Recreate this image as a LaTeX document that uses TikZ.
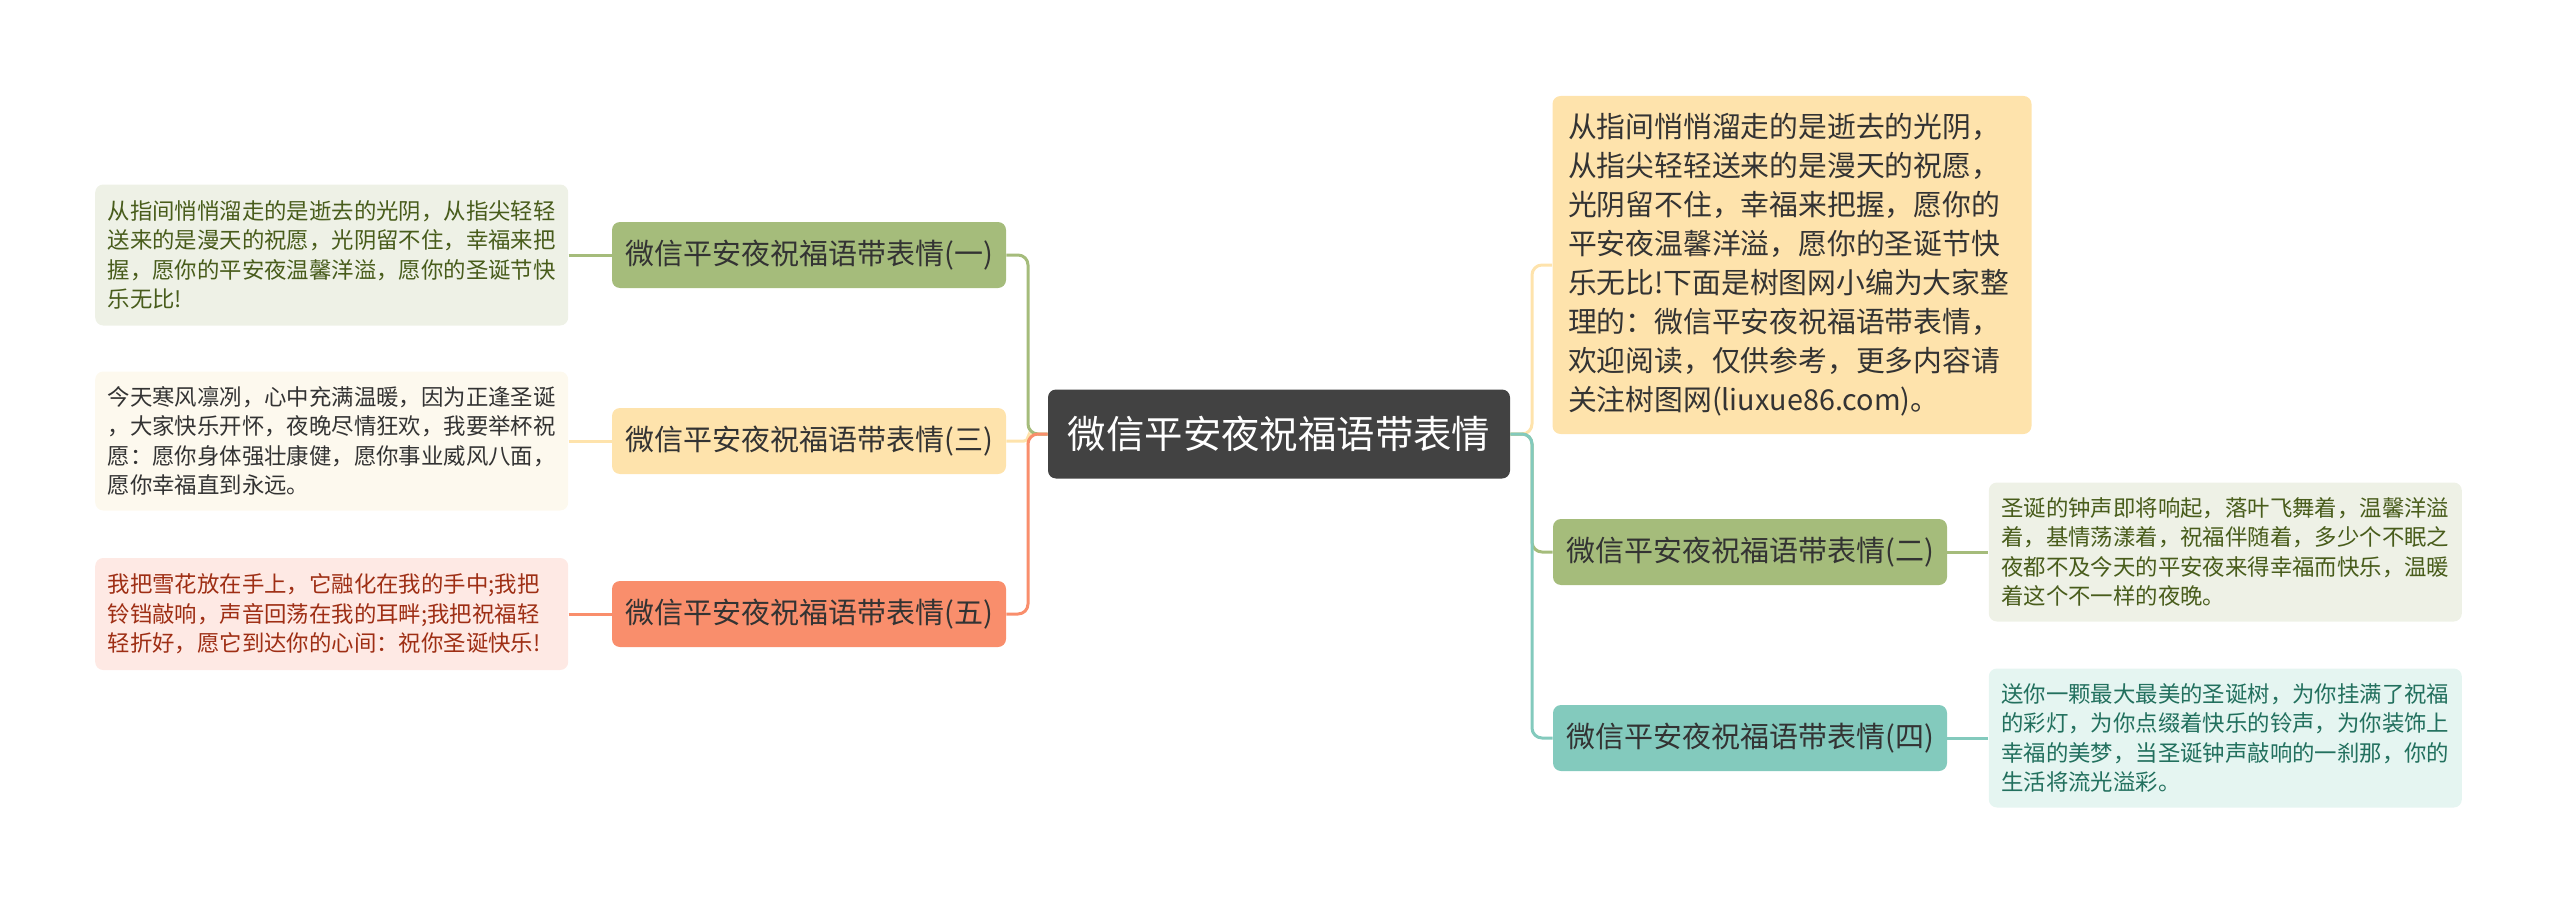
\documentclass[tikz,border=0pt]{standalone}
\usepackage{fontspec}
\usepackage{tikz}
\usetikzlibrary{positioning}
\newfontfamily\cjk{Noto Sans CJK SC}
\definecolor{hubgray}{HTML}{424242}
\definecolor{inkgray}{HTML}{333333}
\definecolor{olive}{HTML}{A5BC7B}
\definecolor{sand}{HTML}{FEE3AC}
\definecolor{salmon}{HTML}{F98E6C}
\definecolor{mint}{HTML}{83CABD}
\definecolor{olivebg}{HTML}{EEF1E6}
\definecolor{olivetext}{HTML}{485C1B}
\definecolor{sandbg}{HTML}{FDF9EE}
\definecolor{salmonbg}{HTML}{FEE9E4}
\definecolor{salmontext}{HTML}{9E2E14}
\definecolor{mintbg}{HTML}{E5F5F1}
\definecolor{minttext}{HTML}{22705E}

\begin{document}
\begin{tikzpicture}[
    x=0.5pt, y=-0.5pt,
    hub/.style={
      fill=hubgray,
      rounded corners=4pt,
      minimum width=231pt,
      minimum height=44.5pt,
      text=white,
      font=\cjk\fontsize{19.2}{23}\selectfont
    },
    branch/.style={
      rounded corners=4pt,
      minimum width=197pt,
      minimum height=33pt,
      text=inkgray,
      font=\cjk\fontsize{14.5}{18}\selectfont
    },
    leaf/.style={
      rounded corners=4pt,
      align=left,
      text width=224pt,
      inner xsep=6.25pt,
      minimum height=69.5pt,
      font=\cjk\fontsize{11.2}{14.7}\selectfont
    },
    link/.style={line width=1.5pt, rounded corners=5pt}
  ]
    \useasboundingbox (0,0) rectangle (2560,904);

    \node[hub] (hub) at (1279,434) {微信平安夜祝福语带表情};

    \node[branch, fill=olive] (b1) at (809,255) {微信平安夜祝福语带表情(一)};
    \node[branch, fill=sand] (b3) at (809,441) {微信平安夜祝福语带表情(三)};
    \node[branch, fill=salmon] (b5) at (809,614) {微信平安夜祝福语带表情(五)};
    \node[branch, fill=olive] (b2) at (1750,552) {微信平安夜祝福语带表情(二)};
    \node[branch, fill=mint] (b4) at (1750,738) {微信平安夜祝福语带表情(四)};

    \node[leaf, fill=olivebg, text=olivetext, minimum height=70.5pt, left=21.5pt of b1]
      (l1) {从指间悄悄溜走的是逝去的光阴，从指尖轻轻\\送来的是漫天的祝愿，光阴留不住，幸福来把\\握，愿你的平安夜温馨洋溢，愿你的圣诞节快\\乐无比!};
    \node[leaf, fill=sandbg, text=inkgray, left=21.5pt of b3]
      (l3) {今天寒风凛冽，心中充满温暖，因为正逢圣诞\\，大家快乐开怀，夜晚尽情狂欢，我要举杯祝\\愿：愿你身体强壮康健，愿你事业威风八面，\\愿你幸福直到永远。};
    \node[leaf, fill=salmonbg, text=salmontext, minimum height=56pt, left=21.5pt of b5]
      (l5) {我把雪花放在手上，它融化在我的手中;我把\\铃铛敲响，声音回荡在我的耳畔;我把祝福轻\\轻折好，愿它到达你的心间：祝你圣诞快乐!};

    \node[leaf, fill=olivebg, text=olivetext, right=20.5pt of b2]
      (l2) {圣诞的钟声即将响起，落叶飞舞着，温馨洋溢\\着，基情荡漾着，祝福伴随着，多少个不眠之\\夜都不及今天的平安夜来得幸福而快乐，温暖\\着这个不一样的夜晚。};
    \node[leaf, fill=mintbg, text=minttext, right=20.5pt of b4]
      (l4) {送你一颗最大最美的圣诞树，为你挂满了祝福\\的彩灯，为你点缀着快乐的铃声，为你装饰上\\幸福的美梦，当圣诞钟声敲响的一刹那，你的\\生活将流光溢彩。};

    \node[leaf, fill=sand, text=inkgray, text width=224pt, inner xsep=7.75pt,
      minimum height=169pt, font=\cjk\fontsize{14.4}{19.5}\selectfont]
      (intro) at (1792,265) {从指间悄悄溜走的是逝去的光阴，\\从指尖轻轻送来的是漫天的祝愿，\\光阴留不住，幸福来把握，愿你的\\平安夜温馨洋溢，愿你的圣诞节快\\乐无比!下面是树图网小编为大家整\\理的：微信平安夜祝福语带表情，\\欢迎阅读，仅供参考，更多内容请\\关注树图网(liuxue86.com)。};

    \coordinate (hl) at (1028,434);
    \coordinate (hr) at (1532,434);

    \draw[link, draw=sand, rounded corners=2pt] (hub.west) -- (hl) |- (b3.east);
    \draw[link, draw=olive] (hub.west) -- (hl) |- (b1.east);
    \draw[link, draw=salmon] (hub.west) -- (hl) |- (b5.east);

    \draw[link, draw=sand] (hub.east) -- (hr) |- (intro.west);
    \draw[link, draw=olive] (hub.east) -- (hr) |- (b2.west);
    \draw[link, draw=mint] (hub.east) -- (hr) |- (b4.west);

    \draw[link, draw=olive] (l1.east) -- (b1.west);
    \draw[link, draw=sand] (l3.east) -- (b3.west);
    \draw[link, draw=salmon] (l5.east) -- (b5.west);
    \draw[link, draw=olive] (b2.east) -- (l2.west);
    \draw[link, draw=mint] (b4.east) -- (l4.west);
  \end{tikzpicture}
\end{document}
